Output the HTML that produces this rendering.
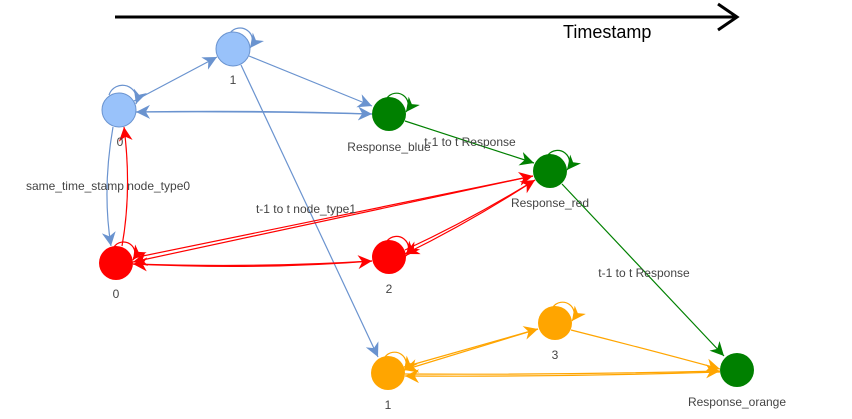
<!DOCTYPE html>
<html><head><meta charset="utf-8"><style>
html,body{margin:0;padding:0;background:#fff;width:852px;height:419px;overflow:hidden}
svg{display:block}
text{font-family:"Liberation Sans",Arial,sans-serif;font-size:12px;fill:#444}
</style></head><body>
<svg width="852" height="419" viewBox="0 0 852 419">
<defs>
<marker id="ab" viewBox="0 0 10 10" refX="10" refY="5" markerWidth="14" markerHeight="14" markerUnits="userSpaceOnUse" orient="auto"><path d="M0,0 L10,5 L0,10 L3,5z" fill="#6a93cf"/></marker>
<marker id="ar" viewBox="0 0 10 10" refX="10" refY="5" markerWidth="14" markerHeight="14" markerUnits="userSpaceOnUse" orient="auto"><path d="M0,0 L10,5 L0,10 L3,5z" fill="#ff0000"/></marker>
<marker id="ag" viewBox="0 0 10 10" refX="10" refY="5" markerWidth="14" markerHeight="14" markerUnits="userSpaceOnUse" orient="auto"><path d="M0,0 L10,5 L0,10 L3,5z" fill="#008000"/></marker>
<marker id="ao" viewBox="0 0 10 10" refX="10" refY="5" markerWidth="14" markerHeight="14" markerUnits="userSpaceOnUse" orient="auto"><path d="M0,0 L10,5 L0,10 L3,5z" fill="#ffa500"/></marker>
</defs>
<!-- timeline -->
<line x1="115" y1="17" x2="737" y2="17" stroke="#000" stroke-width="3"/>
<polyline points="718,4 737,17 718,30" fill="none" stroke="#000" stroke-width="3"/>
<text x="563" y="38" style="font-size:18px;fill:#000">Timestamp</text>

<g fill="none" stroke-width="1.2">
<!-- blue edges -->
<line x1="134" y1="101" x2="217" y2="57" stroke="#6a93cf" marker-end="url(#ab)"/>
<line x1="249" y1="56" x2="372" y2="106" stroke="#6a93cf" marker-end="url(#ab)"/>
<path d="M136,112 Q260,110 372,114" stroke="#6a93cf" marker-end="url(#ab)"/>
<path d="M372,114 Q260,111 136,112" stroke="#6a93cf" marker-end="url(#ab)"/>
<path d="M113,127 Q102,190 111,246" stroke="#6a93cf" marker-end="url(#ab)"/>
<line x1="241" y1="65" x2="378" y2="357" stroke="#6a93cf" marker-end="url(#ab)"/>
<!-- red edges -->
<path d="M122,246 Q132,190 124,127" stroke="#ff0000" marker-end="url(#ar)"/>
<path d="M133,258 Q340,215 533,176" stroke="#ff0000" marker-end="url(#ar)"/>
<path d="M533,176 Q340,218 133,262" stroke="#ff0000" marker-end="url(#ar)"/>
<path d="M133,264 Q260,270 372,261" stroke="#ff0000" marker-end="url(#ar)"/>
<path d="M372,261 Q260,268 133,264" stroke="#ff0000" marker-end="url(#ar)"/>
<path d="M405,250 Q470,220 535,180" stroke="#ff0000" marker-end="url(#ar)"/>
<path d="M535,180 Q470,222 405,254" stroke="#ff0000" marker-end="url(#ar)"/>
<!-- green edges -->
<line x1="405" y1="121" x2="534" y2="163" stroke="#008000" marker-end="url(#ag)"/>
<line x1="562" y1="184" x2="724" y2="356" stroke="#008000" marker-end="url(#ag)"/>
<!-- orange edges -->
<line x1="404" y1="367" x2="538" y2="329" stroke="#ffa500" marker-end="url(#ao)"/>
<line x1="538" y1="329" x2="404" y2="370" stroke="#ffa500" marker-end="url(#ao)"/>
<path d="M571,330 Q650,350 720,369" stroke="#ffa500" marker-end="url(#ao)"/>
<path d="M405,374 Q560,375 720,371" stroke="#ffa500" marker-end="url(#ao)"/>
<path d="M720,372 Q560,377 405,376" stroke="#ffa500" marker-end="url(#ao)"/>
<!-- self loops -->
<path d="M109,95 A11,11 0 1 1 136,104" stroke="#6a93cf" marker-end="url(#ab)"/>
<path d="M230,33 A11,11 0 1 1 250,48" stroke="#6a93cf" marker-end="url(#ab)"/>
<path d="M387,98 A11,11 0 1 1 406,112" stroke="#008000" marker-end="url(#ag)"/>
<path d="M548,155 A11,11 0 1 1 567,170" stroke="#008000" marker-end="url(#ag)"/>
<path d="M114,247 A11,11 0 1 1 133,260" stroke="#ff0000" marker-end="url(#ar)"/>
<path d="M387,241 A11,11 0 1 1 406,256" stroke="#ff0000" marker-end="url(#ar)"/>
<path d="M385,357 A11,11 0 1 1 404,371" stroke="#ffa500" marker-end="url(#ao)"/>
<path d="M553,307 A11,11 0 1 1 572,321" stroke="#ffa500" marker-end="url(#ao)"/>
</g>

<!-- nodes -->
<circle cx="119" cy="110" r="17" fill="#99c2fa" stroke="#6a93cf"/>
<circle cx="233" cy="49" r="17" fill="#99c2fa" stroke="#6a93cf"/>
<circle cx="389" cy="114" r="17" fill="#008000"/>
<circle cx="550" cy="171" r="17" fill="#008000"/>
<circle cx="116" cy="263" r="17" fill="#ff0000"/>
<circle cx="389" cy="257" r="17" fill="#ff0000"/>
<circle cx="388" cy="373" r="17" fill="#ffa500"/>
<circle cx="555" cy="323" r="17" fill="#ffa500"/>
<circle cx="737" cy="370" r="17" fill="#008000"/>

<!-- labels -->
<g text-anchor="middle">
<text x="120" y="146">0</text>
<text x="233" y="84">1</text>
<text x="389" y="151">Response_blue</text>
<text x="550" y="207">Response_red</text>
<text x="116" y="298">0</text>
<text x="389" y="293">2</text>
<text x="388" y="409">1</text>
<text x="555" y="359">3</text>
<text x="737" y="406">Response_orange</text>
<text x="470" y="146">t-1 to t Response</text>
<text x="644" y="277">t-1 to t Response</text>
<text x="108" y="190">same_time_stamp node_type0</text>
<text x="306" y="213">t-1 to t node_type1</text>
</g>
</svg>
</body></html>
